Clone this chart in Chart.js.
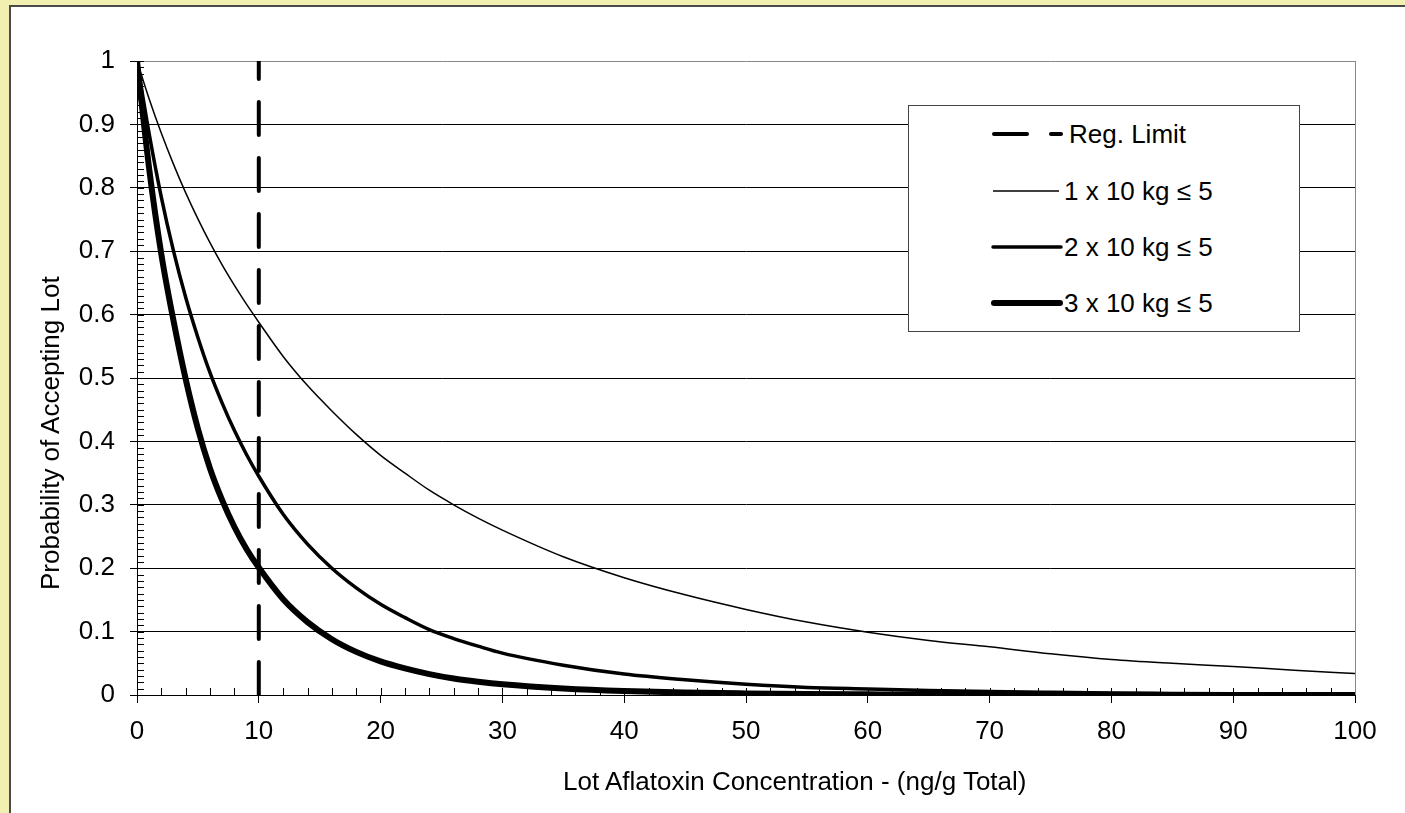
<!DOCTYPE html>
<html>
<head>
<meta charset="utf-8">
<script src="https://cdn.jsdelivr.net/npm/chart.js@4.4.1/dist/chart.umd.min.js"></script>
<style>
  html, body { margin: 0; padding: 0; }
  body { width: 1405px; height: 813px; overflow: hidden; background: #f2f0b0; position: relative;
         font-family: "Liberation Sans", Arial, sans-serif; }
  #painel { position: absolute; left: 9px; top: 5px; width: 1420px; height: 830px; background: #fff;
            border-left: 2px solid #4a4a4a; border-top: 2px solid #4a4a4a; }
  #grafico { position: absolute; left: 0; top: 0; }
  #legenda { position: absolute; left: 908px; top: 105px; width: 392px; height: 227px;
             background: #fff; border: 1px solid #444; box-sizing: border-box; }
  #legenda svg { position: absolute; left: 0; top: 0; }
  #legenda span, .titulo { position: absolute; font-size: 26px; line-height: 30px; color: #000; white-space: nowrap; }
  #tituloX { left: 563px; top: 766px; }
  #tituloY { left: 35px; top: 590px; transform-origin: 0 0; transform: rotate(-90deg); }
</style>
</head>
<body>
<div id="painel"></div>
<canvas id="grafico" width="1405" height="813"></canvas>
<div id="tituloX" class="titulo"></div>
<div id="tituloY" class="titulo"></div>
<div id="legenda">
  <svg width="392" height="227">
    <line x1="85" y1="28" x2="118" y2="28" stroke="#000" stroke-width="4" stroke-linecap="round"/>
    <line x1="142" y1="28" x2="152" y2="28" stroke="#000" stroke-width="4" stroke-linecap="round"/>
    <line x1="84" y1="85" x2="150" y2="85" stroke="#000" stroke-width="1.4"/>
    <line x1="84" y1="141" x2="152" y2="141" stroke="#000" stroke-width="3.5" stroke-linecap="round"/>
    <line x1="85" y1="197" x2="151" y2="197" stroke="#000" stroke-width="6" stroke-linecap="round"/>
  </svg>
  <span id="leg0" style="left:160px; top:13px"></span>
  <span id="leg1" style="left:155px; top:70px"></span>
  <span id="leg2" style="left:155px; top:126px"></span>
  <span id="leg3" style="left:155px; top:182px"></span>
</div>
<script>
// dados
const concentracao = [0, 1, 2, 3, 4, 5, 6, 7, 8, 9, 10, 12, 14, 16, 18, 20, 22, 24, 26, 28, 30,
  35, 40, 45, 50, 55, 60, 65, 70, 75, 80, 85, 90, 95, 100];
const umaAmostra = [1.00, 0.94, 0.886, 0.837, 0.792, 0.751, 0.713, 0.678, 0.646, 0.616, 0.588,
  0.534, 0.488, 0.448, 0.411, 0.378, 0.35, 0.323, 0.30, 0.279, 0.26,
  0.218, 0.185, 0.158, 0.135, 0.115, 0.099, 0.086, 0.076, 0.065, 0.056, 0.05, 0.045, 0.039, 0.034];
const duasAmostras = [1.00, 0.885, 0.785, 0.70, 0.627, 0.564, 0.508, 0.46, 0.417, 0.379, 0.345,
  0.285, 0.238, 0.20, 0.169, 0.143, 0.122, 0.103, 0.089, 0.077, 0.066,
  0.047, 0.033, 0.024, 0.017, 0.012, 0.0095, 0.0072, 0.0055, 0.0042, 0.0031, 0.0025, 0.002, 0.0015, 0.0012];
const tresAmostras = [1.00, 0.83, 0.695, 0.59, 0.498, 0.42, 0.357, 0.307, 0.265, 0.23, 0.201,
  0.151, 0.115, 0.088, 0.068, 0.053, 0.042, 0.033, 0.026, 0.021, 0.017,
  0.0104, 0.0063, 0.0039, 0.0025, 0.0015, 0.001, 0.0006, 0.0004, 0.0003, 0.0002, 0.0001, 0.0001, 0.0001, 0.0];
const limiteX = [10, 10];
const limiteY = [0, 1];
const rotulos = ['Reg. Limit', '1 x 10 kg \u2264 5', '2 x 10 kg \u2264 5', '3 x 10 kg \u2264 5'];
const tituloEixoX = 'Lot Aflatoxin Concentration - (ng/g Total)';
const tituloEixoY = 'Probability of Accepting Lot';

rotulos.forEach((r, i) => { document.getElementById('leg' + i).textContent = r; });
document.getElementById('tituloX').textContent = tituloEixoX;
document.getElementById('tituloY').textContent = tituloEixoY;

const pontos = (xs, ys) => xs.map((x, i) => ({ x: x, y: ys[i] }));
const fonte = { family: '"Liberation Sans", Arial, sans-serif', size: 26 };

// marcas menores dos eixos (para dentro) e borda direita cinza
const marcasMenores = {
  id: 'marcasMenores',
  beforeDatasetsDraw(chart) {
    const { ctx, chartArea: a, scales: { x, y } } = chart;
    ctx.save();
    ctx.strokeStyle = '#000';
    ctx.lineWidth = 1;
    ctx.beginPath();
    for (let v = 0; v <= 100; v++) {
      const py = Math.round(y.getPixelForValue(v / 100)) + 0.5;
      ctx.moveTo(a.left, py); ctx.lineTo(a.left + 7, py);
    }
    for (let v = 0; v <= 100; v += 2) {
      const px = Math.round(x.getPixelForValue(v)) + 0.5;
      ctx.moveTo(px, a.bottom); ctx.lineTo(px, a.bottom - 7);
    }
    ctx.stroke();
    ctx.strokeStyle = '#888';
    ctx.beginPath();
    ctx.moveTo(Math.round(a.right) + 0.5, a.top);
    ctx.lineTo(Math.round(a.right) + 0.5, a.bottom);
    ctx.stroke();
    ctx.restore();
  }
};

const ctxGrafico = document.getElementById('grafico');
new Chart(ctxGrafico, {
  type: 'line',
  data: {
    datasets: [
      {
        label: rotulos[0],
        data: pontos(limiteX, limiteY),
        borderColor: '#000',
        borderWidth: 4,
        borderDash: [33, 23],
        borderCapStyle: 'round',
        pointRadius: 0
      },
      {
        label: rotulos[1],
        data: pontos(concentracao, umaAmostra),
        borderColor: '#000',
        borderWidth: 1.5,
        pointRadius: 0,
        cubicInterpolationMode: 'monotone'
      },
      {
        label: rotulos[2],
        data: pontos(concentracao, duasAmostras),
        borderColor: '#000',
        borderWidth: 3.5,
        pointRadius: 0,
        cubicInterpolationMode: 'monotone'
      },
      {
        label: rotulos[3],
        data: pontos(concentracao, tresAmostras),
        borderColor: '#000',
        borderWidth: 6,
        pointRadius: 0,
        cubicInterpolationMode: 'monotone'
      }
    ]
  },
  options: {
    responsive: false,
    animation: false,
    events: [],
    layout: { padding: { left: 0, top: 61, right: 50, bottom: 0 } },
    plugins: { legend: { display: false }, tooltip: { enabled: false } },
    scales: {
      x: {
        type: 'linear',
        min: 0,
        max: 100,
        afterFit: (s) => { s.height = 118; },
        ticks: { stepSize: 10, color: '#000', font: fonte, padding: 13, maxRotation: 0 },
        grid: { drawOnChartArea: false, tickLength: 8, tickColor: '#000' },
        border: { color: '#000', width: 1 }
      },
      y: {
        min: 0,
        max: 1,
        afterFit: (s) => { s.width = 137; },
        ticks: {
          stepSize: 0.1,
          color: '#000',
          font: fonte,
          padding: 15,
          callback: (v) => String(+v.toFixed(1))
        },
        grid: {
          color: (c) => (c.tick && c.tick.value === 1 ? '#888' : '#000'),
          lineWidth: 1,
          tickLength: 7,
          tickColor: '#000'
        },
        border: { color: '#000', width: 1 }
      }
    }
  },
  plugins: [marcasMenores]
});
</script>
</body>
</html>
